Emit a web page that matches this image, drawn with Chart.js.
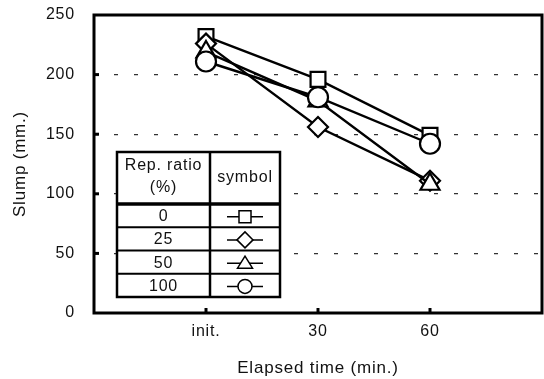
<!DOCTYPE html>
<html>
<head>
<meta charset="utf-8">
<script src="https://cdn.jsdelivr.net/npm/chart.js@4.4.0/dist/chart.umd.min.js"></script>
<style>
  html, body { margin: 0; padding: 0; background: #fff; }
  #wrap { width: 544px; height: 379px; }
</style>
</head>
<body>
<div id="wrap"><canvas id="slump"></canvas></div>
<script>
// slump loss over elapsed time, per replacement ratio
const timeLabels = ['init.', '30', '60'];
const ratios = ['0', '25', '50', '100'];
const slump0 = [232, 196, 149];
const slump25 = [226, 156, 111];
const slump50 = [219, 178, 108];
const slump100 = [211, 181, 142];
const yTicks = [0, 50, 100, 150, 200, 250];

const FONT = "'Liberation Sans', Arial, sans-serif";
const series = [slump0, slump25, slump50, slump100];
const styles = ['rect', 'rectRot', 'triangle', 'circle'];
const radii = [10.5, 10, 11, 10];

function toPoints(arr) {
  return arr.map((v, i) => ({ x: i + 1, y: v }));
}

const datasets = series.map((arr, i) => ({
  label: ratios[i],
  data: toPoints(arr),
  borderColor: '#000',
  borderWidth: 2.4,
  pointStyle: styles[i],
  pointRadius: radii[i],
  pointBorderWidth: 2.2,
  pointBackgroundColor: '#fff',
  pointBorderColor: '#000',
  // circles end up on top, squares at the bottom
  order: 4 - i
}));

// small glyph used in the symbol column of the table
function glyph(ctx, style, x, y) {
  ctx.beginPath();
  if (style === 'rect') {
    ctx.rect(x - 6, y - 6, 12, 12);
  } else if (style === 'rectRot') {
    ctx.moveTo(x - 8, y); ctx.lineTo(x, y - 8);
    ctx.lineTo(x + 8, y); ctx.lineTo(x, y + 8);
    ctx.closePath();
  } else if (style === 'triangle') {
    ctx.moveTo(x, y - 7); ctx.lineTo(x + 7.5, y + 5);
    ctx.lineTo(x - 7.5, y + 5); ctx.closePath();
  } else {
    ctx.arc(x, y, 7, 0, Math.PI * 2);
  }
  ctx.fillStyle = '#fff';
  ctx.fill();
  ctx.stroke();
}

// no overflow padding around the plot: the frame sits at fixed edges
function fixBox(s, key, size) {
  s[key] = size;
  s.paddingTop = 0; s.paddingBottom = 0;
  s.paddingLeft = 0; s.paddingRight = 0;
}

const spacing = {
  id: 'spacing',
  beforeLayout(chart) { chart.ctx.letterSpacing = '0.8px'; },
  beforeDraw(chart) { chart.ctx.letterSpacing = '0.8px'; }
};

const framePlugin = {
  id: 'frame',
  afterDraw(chart) {
    const { ctx, chartArea: a, scales } = chart;
    ctx.save();
    ctx.strokeStyle = '#000';
    ctx.lineWidth = 3;
    ctx.strokeRect(a.left, a.top, a.right - a.left, a.bottom - a.top);

    // inward tick marks
    yTicks.slice(1, -1).forEach(v => {
      const py = scales.y.getPixelForValue(v);
      ctx.beginPath(); ctx.moveTo(a.left, py); ctx.lineTo(a.left + 5, py); ctx.stroke();
    });
    timeLabels.forEach((t, i) => {
      const px = scales.x.getPixelForValue(i + 1);
      ctx.beginPath(); ctx.moveTo(px, a.bottom); ctx.lineTo(px, a.bottom - 5); ctx.stroke();
    });

    // legend table
    const L = 117, R = 280, T = 152, B = 297, C = 210, H = 204;
    const rowH = (B - H) / ratios.length;
    ctx.fillStyle = '#fff';
    ctx.fillRect(L, T, R - L, B - T);
    ctx.lineWidth = 2.5;
    ctx.strokeRect(L, T, R - L, B - T);
    ctx.beginPath(); ctx.moveTo(C, T); ctx.lineTo(C, B); ctx.stroke();
    ctx.lineWidth = 3.5;
    ctx.beginPath(); ctx.moveTo(L, H); ctx.lineTo(R, H); ctx.stroke();
    ctx.lineWidth = 2;
    for (let i = 1; i < ratios.length; i++) {
      const ry = H + rowH * i;
      ctx.beginPath(); ctx.moveTo(L, ry); ctx.lineTo(R, ry); ctx.stroke();
    }

    ctx.fillStyle = '#111';
    ctx.font = '16px ' + FONT;
    ctx.textAlign = 'center';
    ctx.textBaseline = 'middle';
    ctx.fillText('Rep. ratio', (L + C) / 2, 166);
    ctx.fillText('(%)', (L + C) / 2, 188);
    ctx.fillText('symbol', (C + R) / 2, 178);

    ratios.forEach((r, i) => {
      const cy = H + rowH * (i + 0.5) + 1;
      ctx.fillStyle = '#111';
      ctx.fillText(r, (L + C) / 2, cy);
      const gx = (C + R) / 2;
      ctx.lineWidth = 1.5;
      ctx.beginPath(); ctx.moveTo(gx - 18, cy); ctx.lineTo(gx + 18, cy); ctx.stroke();
      glyph(ctx, styles[i], gx, cy);
    });
    ctx.restore();
  }
};

new Chart(document.getElementById('slump'), {
  type: 'line',
  data: { datasets },
  plugins: [spacing, framePlugin],
  options: {
    responsive: true,
    maintainAspectRatio: false,
    animation: false,
    layout: { autoPadding: false, padding: { top: 15, right: 2, left: 0, bottom: 0 } },
    plugins: { legend: { display: false }, tooltip: { enabled: false } },
    scales: {
      x: {
        type: 'linear',
        min: 0,
        max: 4,
        afterFit: s => fixBox(s, 'height', 66),
        afterBuildTicks: s => { s.ticks = [0, 1, 2, 3, 4].map(v => ({ value: v })); },
        grid: { display: false, drawTicks: false },
        border: { display: false },
        ticks: {
          padding: 9,
          maxRotation: 0,
          color: '#111',
          font: { family: FONT, size: 16 },
          callback: v => timeLabels[v - 1] ?? ''
        },
        title: {
          display: true,
          text: 'Elapsed time (min.)',
          color: '#111',
          font: { family: FONT, size: 17 },
          padding: { top: 0, bottom: 0 }
        }
      },
      y: {
        min: 0,
        max: 250,
        afterFit: s => fixBox(s, 'width', 94),
        afterBuildTicks: s => { s.ticks = yTicks.map(v => ({ value: v })); },
        grid: {
          drawTicks: false,
          color: ctx => (ctx.tick.value === 0 || ctx.tick.value === 250) ? 'rgba(0,0,0,0)' : '#333',
          lineWidth: 1.3
        },
        border: { display: false, dash: [4, 16] },
        ticks: {
          padding: 19,
          color: '#111',
          font: { family: FONT, size: 16 }
        },
        title: {
          display: true,
          text: 'Slump (mm.)',
          color: '#111',
          font: { family: FONT, size: 17 },
          padding: { top: 10, bottom: 0 }
        }
      }
    }
  }
});
</script>
</body>
</html>
